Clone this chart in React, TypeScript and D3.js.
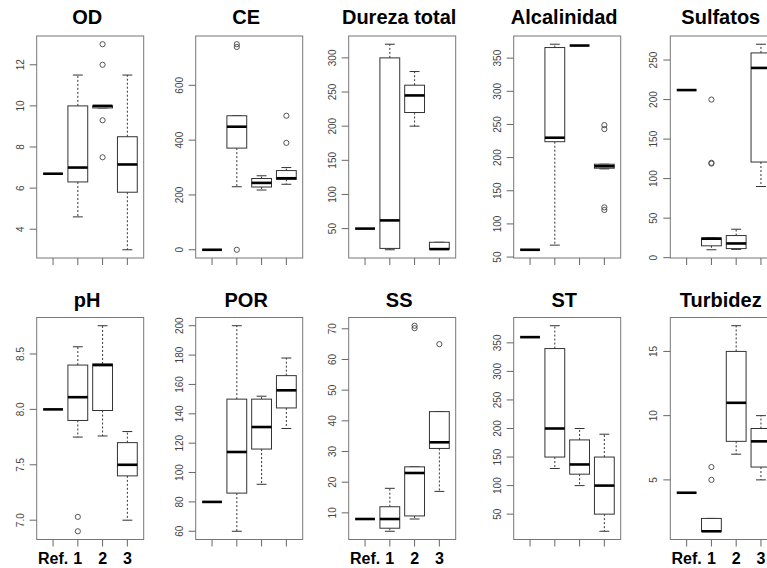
import React from "react";
import * as d3 from "d3";

// groups on the x axis
const groups = ["Ref.", "1", "2", "3"];

const titles = ["OD", "CE", "Dureza total", "Alcalinidad", "Sulfatos", "pH", "POR", "SS", "ST", "Turbidez"];

// spacing of the y axis tick labels in each panel
const tickSteps = [2, 200, 50, 50, 50, 0.5, 20, 10, 50, 5];

// boxplot stats per group: [lower whisker, Q1, median, Q3, upper whisker]
const odStats = [[6.7, 6.7, 6.7, 6.7, 6.7], [4.6, 6.3, 7.0, 10, 11.5], [9.9, 9.9, 10, 10, 10], [3, 5.8, 7.15, 8.5, 11.5]];
const odOut = [[], [], [13, 12, 9.3, 7.5], []];

const ceStats = [[0, 0, 0, 0, 0], [230, 371, 449, 489, 489], [218, 229, 244, 260, 270], [239, 257, 261, 289, 300]];
const ceOut = [[], [750, 740, 0], [], [489, 390]];

const durezaStats = [[50, 50, 50, 50, 50], [19, 21, 62, 300, 320], [200, 220, 245, 260, 280], [20, 20, 20, 30, 30]];
const durezaOut = [[], [], [], []];

const alcStats = [[61, 61, 61, 61, 61], [68, 224, 230, 366, 371], [369, 369, 369, 369, 369], [183, 184, 187, 190, 190]];
const alcOut = [[], [], [], [249, 243, 125, 121]];

const sulfStats = [[212, 212, 212, 212, 212], [10, 15, 24, 25, 25], [10.5, 11.5, 18, 28, 36], [90, 121, 240, 259, 270]];
const sulfOut = [[], [200, 120, 119], [], []];

const phStats = [[8, 8, 8, 8, 8], [7.75, 7.9, 8.11, 8.4, 8.565], [7.76, 7.99, 8.4, 8.41, 8.755], [7.0, 7.4, 7.5, 7.7, 7.8]];
const phOut = [[], [7.03, 6.9], [], []];

const porStats = [[80, 80, 80, 80, 80], [60, 86, 114, 150, 200], [92, 116, 131, 150, 152], [130, 144, 156, 166, 178]];
const porOut = [[], [], [], []];

const ssStats = [[8, 8, 8, 8, 8], [4, 5, 8, 12, 18], [8, 9, 23, 25, 25], [17, 31, 33, 43, 43]];
const ssOut = [[], [], [71, 70.2], [65]];

const stStats = [[360, 360, 360, 360, 360], [130, 150, 200, 340, 380], [100, 120, 137, 180, 200], [20, 50, 100, 150, 190]];
const stOut = [[], [], [], []];

const turbStats = [[4, 4, 4, 4, 4], [1, 1, 1, 2, 2], [7, 8, 11, 15, 17], [5, 6, 8, 9, 10]];
const turbOut = [[], [6, 5], [], []];

const allStats = [odStats, ceStats, durezaStats, alcStats, sulfStats, phStats, porStats, ssStats, stStats, turbStats];
const allOut = [odOut, ceOut, durezaOut, alcOut, sulfOut, phOut, porOut, ssOut, stOut, turbOut];

const colLeft = [36.7, 195.7, 348.7, 513.7, 670.3];
const rowTop = [36, 317.5];
const titleBase = [23.5, 306.8];
const plotW = 107;
const plotH = 222;
const labelPanels = [5, 7, 9];

const font = "'Liberation Sans', Arial, Helvetica, sans-serif";

function Panel({ idx }: { idx: number }) {
  const stats = allStats[idx];
  const outs = allOut[idx];
  const left = colLeft[idx % 5];
  const top = rowTop[Math.floor(idx / 5)];
  const bottom = top + plotH;

  // R style: data range widened by 4% on both sides
  const vals = stats.flat().concat(outs.flat());
  const [lo, hi] = d3.extent(vals) as [number, number];
  const pad = (hi - lo) * 0.04;

  const y = d3.scaleLinear().domain([lo - pad, hi + pad]).range([bottom, top]);
  const n = groups.length;
  const x = d3.scaleLinear().domain([0.5 - n * 0.04, n + 0.5 + n * 0.04]).range([left, left + plotW]);

  const boxHalf = x(1.4) - x(1);
  const stapleHalf = boxHalf / 2;

  const step = tickSteps[idx];
  const [d0, d1] = y.domain();
  const ticks = d3.range(Math.ceil(d0 / step) * step, d1 + 1e-9, step);
  const fmt = step < 1 ? d3.format(".1f") : d3.format("d");

  return (
    <g>
      <text x={left + plotW / 2 - 3} y={titleBase[Math.floor(idx / 5)]} textAnchor="middle"
        fontFamily={font} fontWeight="bold" fontSize={20} fill="#000">{titles[idx]}</text>

      {stats.map((s, i) => {
        const cx = x(i + 1);
        const [wl, q1, md, q3, wh] = s;
        return (
          <g key={i}>
            <line x1={cx} x2={cx} y1={y(q1)} y2={y(wl)} stroke="#333" strokeDasharray="2,2" />
            <line x1={cx} x2={cx} y1={y(q3)} y2={y(wh)} stroke="#333" strokeDasharray="2,2" />
            <line x1={cx - stapleHalf} x2={cx + stapleHalf} y1={y(wl)} y2={y(wl)} stroke="#333" />
            <line x1={cx - stapleHalf} x2={cx + stapleHalf} y1={y(wh)} y2={y(wh)} stroke="#333" />
            <rect x={cx - boxHalf} y={y(q3)} width={boxHalf * 2} height={Math.max(0, y(q1) - y(q3))}
              fill="#fff" stroke="#333" />
            <line x1={cx - boxHalf} x2={cx + boxHalf} y1={y(md)} y2={y(md)} stroke="#000" strokeWidth={2.6} />
            {outs[i].map((o, j) => (
              <circle key={j} cx={cx} cy={y(o)} r={2.6} fill="none" stroke="#444" strokeWidth={0.9} />
            ))}
          </g>
        );
      })}

      <rect x={left} y={top} width={plotW} height={plotH} fill="none" stroke="#777" />

      {ticks.map((t) => (
        <g key={t}>
          <line x1={left} x2={left - 7} y1={y(t)} y2={y(t)} stroke="#666" />
          <text transform={`translate(${left - 13},${y(t)}) rotate(-90)`} textAnchor="middle"
            fontFamily={font} fontSize={10} fill="#444">{fmt(t)}</text>
        </g>
      ))}

      {groups.map((g, i) => (
        <g key={g}>
          <line x1={x(i + 1)} x2={x(i + 1)} y1={bottom} y2={bottom + 7} stroke="#666" />
          {labelPanels.includes(idx) && (
            <text x={x(i + 1)} y={bottom + 24} textAnchor="middle" fontFamily={font}
              fontWeight="bold" fontSize={16} fill="#000">{g}</text>
          )}
        </g>
      ))}
    </g>
  );
}

export default function App() {
  return (
    <svg width={767} height={568} style={{ position: "absolute", left: 0, top: 0, background: "#fff" }}>
      <rect width={767} height={568} fill="#fff" />
      {titles.map((_, i) => (
        <Panel key={i} idx={i} />
      ))}
    </svg>
  );
}
